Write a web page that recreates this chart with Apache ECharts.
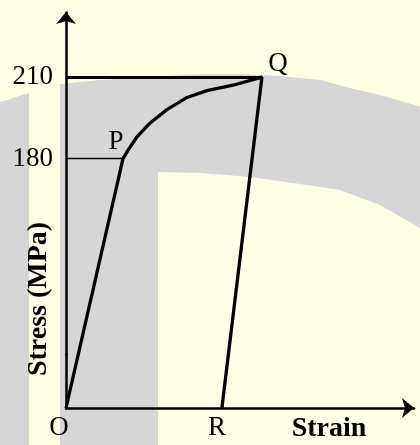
<!DOCTYPE html>
<html>
<head>
<meta charset="utf-8">
<script src="https://cdn.jsdelivr.net/npm/echarts@6/dist/echarts.min.js"></script>
<style>
  html, body { margin: 0; padding: 0; background: #FFFFE6; }
  #chart { width: 420px; height: 445px; }
</style>
</head>
<body>
<div id="chart"></div>
<script>
// stress-strain curve, schematic (strain has no units)
const strain = [0, 16.4, 17.8, 20.4, 24.1, 29.0, 34.8, 40.5, 48.0, 56.3, 44.8]
const stress = [0, 180, 183, 188, 193, 198, 202.5, 205, 207, 210, 0]
const pointNames = ['O', 'P', '', '', '', '', '', '', '', 'Q', 'R']
const yTicks = [180, 210]
const yieldStress = 180
const ultimateStress = 210

const serif = '"Liberation Serif", "Times New Roman", serif'
const labelOffsets = { O: [-7, 20], P: [-7, -17], Q: [16, -13], R: [-5, 20] }

const curve = strain.map((x, i) => [x, stress[i]])
const P = curve[pointNames.indexOf('P')]
const Q = curve[pointNames.indexOf('Q')]
const labelled = []
pointNames.forEach((n, i) => {
  if (n) {
    labelled.push({
      name: n,
      value: curve[i],
      label: { offset: labelOffsets[n] }
    })
  }
})

// light grey "D" watermark behind the plot
const outerArc = [[60, 84], [100, 80], [150, 77], [200, 74], [240, 74], [280, 76], [320, 80], [350, 88], [380, 95], [425, 108]]
const innerArc = [[425, 231], [380, 205], [340, 190], [300, 184], [250, 177], [200, 173], [158, 172]]
const dShape = [[60, 445]].concat(outerArc, innerArc, [[158, 445]])

const chart = echarts.init(document.getElementById('chart'))
chart.setOption({
  backgroundColor: '#FFFFE6',
  animation: false,
  grid: { left: 66, right: 6, top: 12, bottom: 37 },
  graphic: [
    {
      type: 'polygon', z: -10, silent: true,
      shape: { points: [[0, 102], [29, 93], [29, 445], [0, 445]] },
      style: { fill: '#D6D6D6' }
    },
    {
      type: 'polygon', z: -10, silent: true,
      shape: { points: dShape },
      style: { fill: '#D6D6D6' }
    },
    {
      type: 'text', x: 38.5, y: 299, rotation: Math.PI / 2,
      style: { text: 'Stress (MPa)', font: 'bold 28px ' + serif, fill: '#000', align: 'center', verticalAlign: 'middle' }
    },
    {
      type: 'text', x: 329, y: 429,
      style: { text: 'Strain', font: 'bold 28px ' + serif, fill: '#000', align: 'center', verticalAlign: 'middle' }
    }
  ],
  xAxis: {
    type: 'value',
    min: 0,
    max: 100,
    axisLine: {
      onZero: false,
      symbol: ['none', 'arrow'],
      symbolSize: [15, 12],
      lineStyle: { color: '#000', width: 2.5 }
    },
    axisTick: { show: false },
    axisLabel: { show: false },
    splitLine: { show: false }
  },
  yAxis: {
    type: 'value',
    min: 0,
    max: 234,
    breaks: [{ start: 20, end: 108, gap: 0 }],
    breakArea: { show: false },
    axisLine: {
      show: true,
      onZero: false,
      symbol: ['none', 'arrow'],
      symbolSize: [15, 12],
      lineStyle: { color: '#000', width: 2.5 }
    },
    axisTick: { show: false },
    axisLabel: {
      customValues: yTicks,
      color: '#000',
      fontFamily: serif,
      fontSize: 27,
      margin: 13
    },
    splitLine: { show: false }
  },
  series: [
    {
      type: 'line',
      data: curve,
      symbol: 'none',
      lineStyle: { color: '#000', width: 3.3 },
      z: 3,
      markLine: {
        silent: true,
        symbol: 'none',
        label: { show: false },
        data: [
          [{ coord: [0, ultimateStress], lineStyle: { color: '#000', width: 3, type: 'solid' } }, { coord: [Q[0], ultimateStress] }],
          [{ coord: [0, yieldStress], lineStyle: { color: '#000', width: 1.3, type: 'solid' } }, { coord: [P[0], yieldStress] }]
        ]
      }
    },
    {
      type: 'scatter',
      data: labelled,
      symbolSize: 1,
      silent: true,
      itemStyle: { color: 'rgba(0,0,0,0)' },
      label: {
        show: true,
        position: 'inside',
        formatter: '{b}',
        color: '#000',
        opacity: 1,
        textBorderWidth: 0,
        fontFamily: serif,
        fontSize: 27
      }
    }
  ]
})
</script>
</body>
</html>
